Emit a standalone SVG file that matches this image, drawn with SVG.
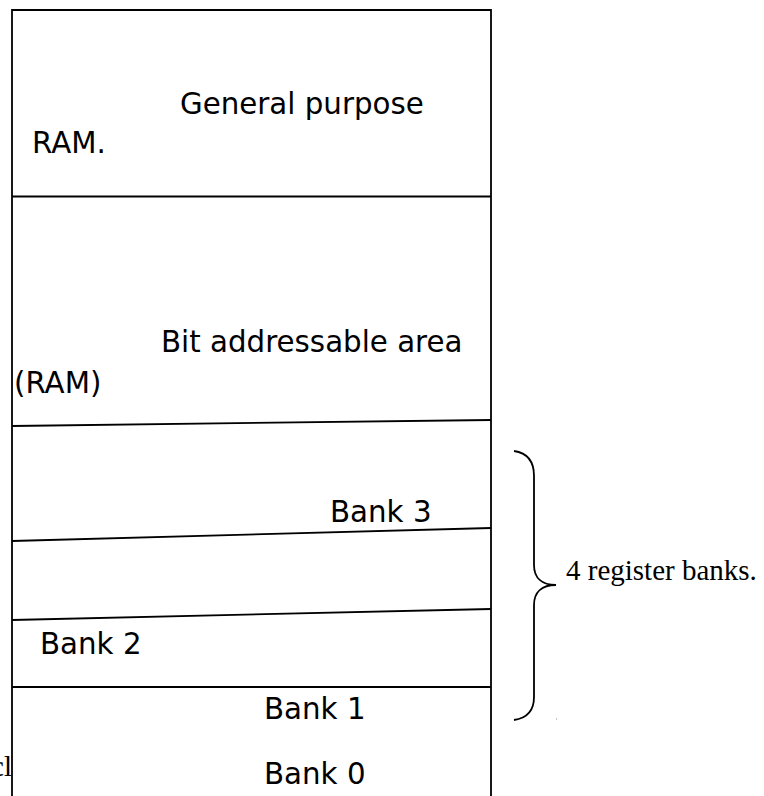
<svg xmlns="http://www.w3.org/2000/svg" width="764" height="796" viewBox="0 0 764 796">
  <style>
    .ln { stroke: #000; stroke-width: 1.8; fill: none; }
    .lbl { font-family: "DejaVu Sans", sans-serif; font-size: 29.3px; fill: #000; }
    .note { font-family: "Liberation Serif", serif; font-size: 29px; fill: #000; }
  </style>
  <rect width="764" height="796" fill="#fff"/>

  <!-- stray text partly hidden behind the memory column -->
  <text class="note" x="12" y="776" text-anchor="end">cl</text>

  <!-- memory column outline and partitions -->
  <g id="connectors">
    <path class="ln" d="M12,797 L12,10 L491,10 L491,797"/>
    <line class="ln" x1="12" y1="196.5" x2="491" y2="196.5"/>
    <line class="ln" x1="12" y1="426" x2="491" y2="420"/>
    <line class="ln" x1="12" y1="541" x2="491" y2="528"/>
    <line class="ln" x1="12" y1="620" x2="491" y2="609"/>
    <line class="ln" x1="12" y1="687" x2="491" y2="687"/>
    <!-- brace grouping the register banks -->
    <path class="ln" d="M514,451 C528,453 534,462 534,476 L534,565 C534,578 542,585 556,585 C542,585 534,592 534,605 L534,697 C534,710 528,718 514,720"/>
    <rect x="556" y="718.5" width="1" height="1" fill="#888"/>
  </g>

  <g id="general-purpose-ram">
    <text class="lbl" x="180" y="114">General purpose</text>
    <text class="lbl" x="32" y="153">RAM.</text>
  </g>

  <g id="bit-addressable-area">
    <text class="lbl" x="161" y="352">Bit addressable area</text>
    <text class="lbl" x="14" y="393">(RAM)</text>
  </g>

  <g id="bank-3">
    <text class="lbl" x="330" y="522">Bank 3</text>
  </g>

  <g id="bank-2">
    <text class="lbl" x="40" y="654">Bank 2</text>
  </g>

  <g id="bank-1">
    <text class="lbl" x="264" y="719">Bank 1</text>
  </g>

  <g id="bank-0">
    <text class="lbl" x="264" y="784">Bank 0</text>
  </g>

  <g id="register-banks-note">
    <text class="note" x="566" y="580">4 register banks.</text>
  </g>
</svg>
